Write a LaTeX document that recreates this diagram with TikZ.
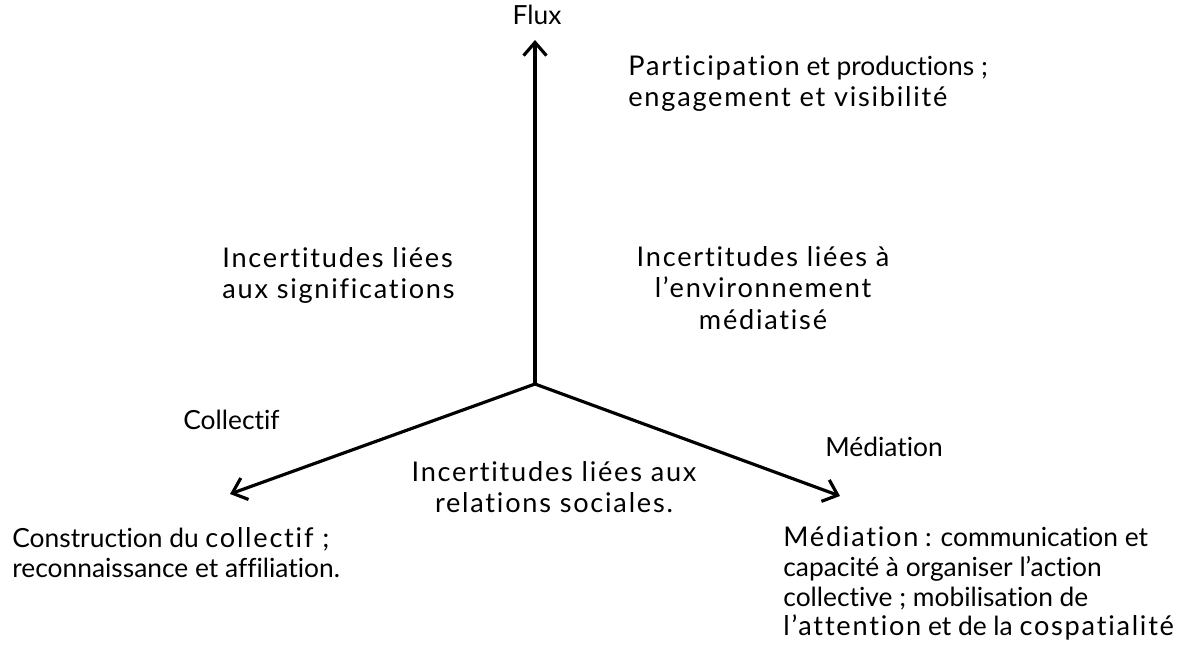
\documentclass[tikz,border=0pt]{standalone}
\usepackage{fontspec}
\setmainfont{Lato}[Ligatures=NoCommon]
\newfontfamily\widefont{Lato}[Ligatures=NoCommon,LetterSpace=6.5,Scale=1.03]
\newcommand{\ecart}[1]{{\widefont #1}}
\usetikzlibrary{arrows.meta,positioning}

\begin{document}
\begin{tikzpicture}[x=0.02cm,y=-0.02cm,>={Straight Barb[length=7.5pt,width=13pt]},
  txt/.style={inner sep=0pt,align=left,font=\fontsize{15}{17}\selectfont},
  axe/.style={->,line width=1.8pt}]
  \useasboundingbox (0,0) rectangle (1202,646);
  % axes
  \coordinate (o) at (535,384);
  \coordinate (fluxtip) at (535,40);
  \coordinate (coltip) at (230,494);
  \coordinate (medtip) at (840,496);
  \draw[axe] (o) -- (fluxtip);
  \draw[axe] (o) -- (coltip);
  \draw[axe] (o) -- (medtip);
  % axis names
  \node[txt] (flux) at (537,15) {Flux};
  \node[txt,anchor=west] (collectif) at (183,420) {Collectif};
  \node[txt,anchor=west] (mediation) at (825,447) {Médiation};
  % uncertainties
  \node[txt,anchor=north west,font=\fontsize{15}{18}\selectfont\widefont] (signif) at (222,247) {Incertitudes liées\\aux significations};
  \node[txt,anchor=north,align=center,font=\fontsize{15}{18}\selectfont\widefont] (envir) at (763,246) {Incertitudes liées à\\l’environnement\\médiatisé};
  \node[txt,anchor=north,align=center,font=\fontsize{15}{18}\selectfont\widefont] (relat) at (554,461) {Incertitudes liées aux\\relations sociales.};
  % dimensions
  \node[txt,anchor=north west,font=\fontsize{15}{18}\selectfont] (partic) at (628,55) {\ecart{Participation} et productions ;\\\ecart{engagement et visibilité}};
  \node[txt,anchor=north west] (constr) at (12,527) {Construction du \ecart{collectif ;}\\reconnaissance et affiliation.};
  \node[txt,anchor=north west] (mobil) at (783,526) {\ecart{Médiation} : communication et\\capacité à organiser l’action\\collective ; mobilisation de\\\ecart{l’attention} et de la \ecart{cospatialité}};
\end{tikzpicture}
\end{document}
